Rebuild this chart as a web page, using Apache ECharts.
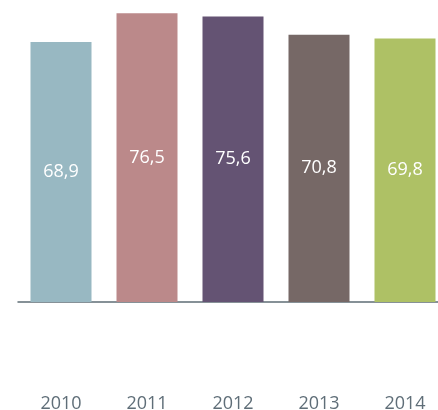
<!DOCTYPE html>
<html>
<head>
<meta charset="utf-8">
<script src="https://cdn.jsdelivr.net/npm/echarts@6/dist/echarts.min.js"></script>
<style>
  html, body { margin: 0; padding: 0; background: #fff; }
  #chart { width: 438px; height: 410px; }
</style>
</head>
<body>
<div id="chart"></div>
<script>
const years = ["2010", "2011", "2012", "2013", "2014"];
const values = [68.9, 76.5, 75.6, 70.8, 69.8];
const barColors = ["#98b8c2", "#bb898a", "#645373", "#766866", "#aec165"];

const chart = echarts.init(document.getElementById("chart"), null, { renderer: "canvas" });

const option = {
  animation: false,
  grid: {
    left: 18,
    width: 430,
    top: 0,
    bottom: 108,
    containLabel: false,
    outerBoundsMode: "none",
  },
  xAxis: {
    type: "category",
    data: years,
    axisLine: { show: true, lineStyle: { color: "#5f6e75", width: 1.5 } },
    axisTick: { show: false },
    axisLabel: {
      margin: 93,
      color: "#5f6e78",
      fontFamily: "Open Sans",
      fontSize: 18,
    },
  },
  yAxis: {
    type: "value",
    min: 0,
    max: 80,
    show: false,
    splitLine: { show: false },
  },
  series: [
    {
      type: "bar",
      barWidth: 61,
      data: values.map((v, i) => ({ value: v, itemStyle: { color: barColors[i] } })),
      label: {
        show: true,
        position: "inside",
        color: "#ffffff",
        fontFamily: "Open Sans",
        fontSize: 18,
        formatter: (p) => String(p.value).replace(".", ","),
      },
    },
  ],
};

chart.setOption(option);
</script>
</body>
</html>
